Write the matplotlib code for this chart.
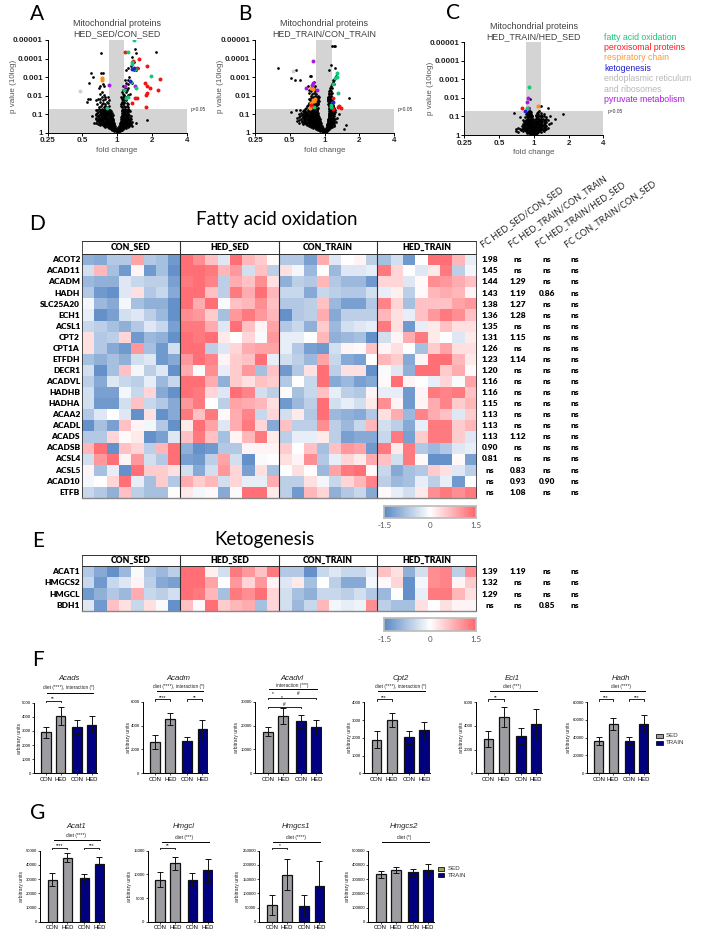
import matplotlib
matplotlib.use('Agg')
import matplotlib.pyplot as plt
import numpy as np
from matplotlib.colors import LinearSegmentedColormap

plt.rcParams['font.family'] = ['Liberation Sans', 'DejaVu Sans']

W, H = 701, 935
cal = ['Lato', 'DejaVu Sans']
heat_cmap = LinearSegmentedColormap.from_list('heat', ['#5A8AC6', '#FFFFFF', '#FF666C'])
group_names = ['CON_SED', 'HED_SED', 'CON_TRAIN', 'HED_TRAIN']

# volcano data: (-log10 p, [log2 fold change, ...])
a_black = [
    (0.03, [-0.02, 0.02]), (0.1, [-0.08, -0.04, 0, 0.04, 0.08]),
    (0.15, [-0.15, -0.1, -0.06, -0.02, 0.02, 0.06, 0.1, 0.14]),
    (0.2, [-0.18, -0.13, -0.08, -0.04, 0.04, 0.08, 0.12, 0.17]),
    (0.25, [-0.24, -0.17, -0.11, -0.06, -0.02, 0.03, 0.06, 0.1, 0.14, 0.2, 0.26]),
    (0.3, [-0.34, -0.26, -0.2, -0.14, -0.09, 0.08, 0.12, 0.17, 0.23, 0.3]),
    (0.35, [-0.37, -0.29, -0.22, -0.16, -0.11, -0.06, 0.06, 0.1, 0.14, 0.19, 0.25, 0.33, 0.44]),
    (0.4, [-0.5, -0.4, -0.32, -0.25, -0.19, -0.13, 0.1, 0.15, 0.2, 0.27, 0.36]),
    (0.45, [-0.55, -0.44, -0.35, -0.28, -0.22, -0.15, -0.1, 0.08, 0.13, 0.18, 0.24, 0.32, 0.4]),
    (0.5, [-0.6, -0.46, -0.38, -0.3, -0.24, -0.17, -0.12, 0.11, 0.17, 0.23, 0.3, 0.55]),
    (0.55, [-0.66, -0.5, -0.41, -0.33, -0.26, -0.2, -0.14, -0.09, 0.09, 0.14, 0.2, 0.27, 0.36]),
    (0.6, [-0.52, -0.44, -0.36, -0.29, -0.22, -0.15, 0.12, 0.18, 0.25, 0.33, 0.42]),
    (0.65, [-0.58, -0.49, -0.41, -0.32, -0.24, -0.17, -0.11, 0.1, 0.15, 0.22, 0.29, 0.38]),
    (0.7, [-0.55, -0.47, -0.4, -0.33, -0.26, -0.19, -0.13, 0.13, 0.19, 0.26, 0.34, 0.85]),
    (0.75, [-0.6, -0.52, -0.45, -0.37, -0.3, -0.23, -0.16, -0.11, 0.11, 0.16, 0.23, 0.31, 0.4]),
    (0.8, [-0.62, -0.5, -0.43, -0.36, -0.29, -0.22, -0.15, 0.14, 0.2, 0.27, 0.36]),
    (0.85, [-0.55, -0.45, -0.37, -0.3, -0.21, -0.14, 0.12, 0.17, 0.24, 0.32]),
    (0.9, [-0.72, -0.56, -0.47, -0.39, -0.32, -0.24, -0.17, 0.15, 0.21, 0.28, 0.4]),
    (0.95, [-0.62, -0.53, -0.44, -0.36, -0.29, -0.2, -0.13, 0.13, 0.18, 0.25, 0.34]),
    (1.0, [-0.6, -0.5, -0.42, -0.35, -0.27, -0.19, 0.16, 0.22, 0.3]),
    (1.05, [-0.58, -0.47, -0.4, -0.32, -0.24, -0.16, 0.13, 0.19, 0.27]),
    (1.1, [-0.55, -0.46, -0.38, -0.3, -0.22, 0.16, 0.23, 0.31]),
    (1.15, [-0.5, -0.42, -0.34, -0.26, -0.18, 0.14, 0.2, 0.28, 0.36]),
    (1.2, [-0.58, -0.48, -0.4, -0.32, -0.24, 0.17, 0.24, 0.34]),
    (1.25, [-0.6, -0.45, -0.36, -0.28, -0.2, 0.14, 0.2, 0.27]),
    (1.3, [-0.53, -0.44, -0.34, -0.26, 0.16, 0.22, 0.3]),
    (1.4, [-0.53, -0.39, -0.3, 0.15, 0.23, 0.3]), (1.45, [-0.47, -0.36, -0.25, 0.12, 0.2, 0.27]),
    (1.55, [-0.58, -0.44, -0.35, 0.1, 0.18, 0.32]), (1.6, [-0.4, -0.26, 0.13, 0.2, 0.27]),
    (1.67, [-0.87, -0.49, -0.3, 0.2, 0.14]), (1.75, [-0.62, -0.4, -0.24, 0.16, 0.25]),
    (1.8, [-0.85, -0.77, -0.56, -0.49, -0.34, 0.13, 0.22]), (1.9, [-0.45, -0.27, 0.12, 0.2, 0.3]),
    (1.94, [-0.34, 0.16, 0.26]), (2.05, [-0.38, 0.2, 0.3]), (2.1, [-0.49, 0.16, 0.37]),
    (2.2, [-0.43, 0.14, 0.24]), (2.3, [0.28, 0.18]), (2.4, [0.22, 0.3, -0.52]),
    (2.5, [-0.49, -0.39, 0.18]), (2.6, [0.3, -0.42]), (2.66, [-0.8, 0.42, 0.26]), (2.84, [-0.45, 0.23, 0.32]),
    (3.0, [-0.7, 0.33]), (3.2, [-0.75, -0.47, -0.41]), (3.4, [0.26, 0.47, 0.55]), (3.47, [0.32, 0.61]),
    (3.6, [0.4]), (3.83, [0.47]), (4.1, [0.42]), (4.3, [-0.46, 0.54]), (4.37, [1.11]), (4.5, [0.5]),
]
a_green = [(0.47, 5.0), (0.3, 4.37), (0.43, 3.79), (0.43, 3.69), (0.51, 3.45), (0.97, 3.07),
           (0.39, 2.75), (0.53, 2.39), (0.2, 2.3), (0.32, 1.94), (0.26, 1.85), (-0.3, 1.31)]
a_red = [(0.22, 4.37), (0.45, 3.88), (0.64, 4.0), (0.85, 3.6), (0.58, 3.47), (1.23, 2.88),
         (0.8, 2.66), (0.87, 2.5), (0.94, 2.41), (1.18, 2.28), (0.85, 2.12), (0.82, 2.03),
         (0.51, 1.89), (0.56, 1.89), (0.44, 1.62), (0.83, 1.38)]
a_orange = [(-0.43, 2.93), (-0.44, 2.84)]
a_blue = [(0.42, 3.43), (0.47, 3.5), (0.37, 2.8)]
a_purple = [(-0.25, 2.55), (0.5, 2.5), (0.23, 2.5)]
a_gray = [(-1.08, 2.27)]

b_black = [
    (0.03, [-0.04, 0, 0.03]), (0.1, [-0.12, -0.08, -0.04, 0, 0.04, 0.08]),
    (0.15, [-0.2, -0.14, -0.1, -0.06, -0.02, 0.02, 0.06, 0.1]),
    (0.2, [-0.25, -0.19, -0.14, -0.09, -0.05, 0.05, 0.09, 0.13, 0.57]),
    (0.25, [-0.33, -0.25, -0.19, -0.14, -0.09, -0.05, 0.05, 0.08, 0.12, 0.17]),
    (0.3, [-0.38, -0.3, -0.24, -0.18, -0.12, -0.07, 0.07, 0.11, 0.16, 0.22]),
    (0.35, [-0.46, -0.36, -0.29, -0.22, -0.16, -0.11, -0.07, 0.07, 0.1, 0.15, 0.2, 0.27]),
    (0.4, [-0.5, -0.42, -0.35, -0.28, -0.22, -0.15, -0.1, 0.08, 0.13, 0.19, 0.26, 0.62]),
    (0.45, [-0.62, -0.52, -0.44, -0.36, -0.29, -0.23, -0.17, -0.12, 0.08, 0.12, 0.17, 0.23]),
    (0.5, [-0.58, -0.5, -0.42, -0.34, -0.27, -0.2, -0.14, 0.09, 0.14, 0.2, 0.28]),
    (0.55, [-0.72, -0.6, -0.5, -0.42, -0.35, -0.28, -0.22, -0.16, -0.11, 0.09, 0.13, 0.18, 0.25]),
    (0.6, [-0.66, -0.56, -0.47, -0.4, -0.33, -0.26, -0.19, -0.13, 0.1, 0.15, 0.22, 0.32]),
    (0.65, [-0.78, -0.65, -0.55, -0.46, -0.38, -0.31, -0.24, -0.17, -0.12, 0.1, 0.15, 0.2, 0.28]),
    (0.7, [-0.72, -0.6, -0.5, -0.43, -0.36, -0.29, -0.22, -0.15, 0.11, 0.17, 0.24]),
    (0.75, [-0.68, -0.57, -0.48, -0.41, -0.34, -0.27, -0.2, -0.14, 0.11, 0.16, 0.22, 0.3]),
    (0.8, [-0.78, -0.63, -0.55, -0.47, -0.4, -0.32, -0.25, -0.18, 0.12, 0.18, 0.25, 0.35]),
    (0.85, [-0.74, -0.62, -0.52, -0.44, -0.37, -0.3, -0.23, -0.16, 0.12, 0.17, 0.24]),
    (0.9, [-0.7, -0.6, -0.5, -0.42, -0.35, -0.28, -0.2, 0.13, 0.19, 0.27]),
    (0.95, [-0.66, -0.56, -0.47, -0.39, -0.32, -0.25, -0.18, 0.13, 0.18, 0.25]),
    (1.0, [-0.73, -0.62, -0.53, -0.45, -0.37, -0.3, -0.22, 0.14, 0.2, 0.28, 0.42]),
    (1.05, [-0.68, -0.57, -0.49, -0.4, -0.33, -0.26, -0.19, 0.13, 0.19, 0.26]),
    (1.13, [-0.95, -0.6, -0.5, -0.42, -0.33, -0.25, 0.15, 0.21, 0.3]),
    (1.17, [-0.63, -0.55, -0.46, -0.37, -0.29, -0.21, 0.14, 0.2, 0.28]),
    (1.22, [-0.81, -0.7, -0.58, -0.47, -0.38, -0.3, -0.22, 0.15, 0.22, 0.3]),
    (1.3, [-0.56, -0.46, -0.38, -0.3, -0.22, 0.13, 0.19, 0.26]),
    (1.35, [-0.52, -0.42, -0.34, -0.26, -0.2, 0.14, 0.2, 0.27]),
    (1.42, [-0.5, -0.4, -0.31, -0.24, 0.12, 0.18, 0.25]),
    (1.5, [-0.47, -0.38, -0.3, -0.22, 0.12, 0.18, 0.25]),
    (1.57, [-0.42, -0.33, -0.25, -0.18, 0.11, 0.16, 0.22]),
    (1.62, [-0.45, -0.34, -0.26, -0.2, 0.12, 0.17]),
    (1.7, [-0.4, -0.3, -0.22, -0.16, 0.1, 0.15]),
    (1.75, [-0.42, -0.32, -0.24, 0.11, 0.16, 0.22]),
    (1.82, [-0.44, -0.35, -0.27, -0.2, 0.11, 0.15, 0.2]),
    (1.88, [-0.4, -0.3, -0.22, 0.1, 0.15, 0.71]), (1.95, [-0.33, -0.25, -0.17, 0.09, 0.14, 0.2]),
    (2.0, [-0.38, -0.28, -0.2, 0.12, 0.2]), (2.08, [-0.35, -0.24, 0.12, 0.18]), (2.15, [-0.44, -0.3, 0.14, 0.22]),
    (2.25, [-0.38, -0.28, 0.13, 0.2]), (2.3, [-0.45, -0.25, 0.16]), (2.42, [-0.3, 0.16, 0.22]),
    (2.5, [-0.48, -0.26, 0.2]), (2.65, [0.22, 0.27]), (2.75, [0.25, -0.3]),
    (2.84, [-0.86, -0.71, 0.24, 0.27]), (2.97, [-0.95, 0.29]), (3.08, [-0.43, -0.38, 0.32]),
    (3.38, [-0.83, 0.14]), (3.5, [-1.35, 0.29]), (3.65, [0.19]), (4.7, [0.22, 0.26, 0.29]),
]
b_green = [(0.35, 3.24), (0.35, 3.02), (0.3, 2.93), (0.24, 2.63), (0.38, 2.12), (0.19, 1.49),
           (0.19, 1.4), (-0.29, 1.37)]
b_red = [(0.24, 1.85), (-0.38, 1.49), (0.43, 1.44), (0.38, 1.37), (0.48, 1.31), (0.24, 1.26)]
b_orange = [(-0.38, 2.39), (-0.33, 2.34), (-0.33, 1.76), (-0.26, 1.8), (-0.38, 1.62),
            (-0.3, 1.72), (-0.43, 1.31)]
b_blue = [(0.24, 1.64)]
b_purple = [(-0.33, 3.87), (-0.33, 2.7), (-0.35, 2.57), (-0.52, 2.39), (-0.22, 2.3)]
b_gray = [(-0.92, 3.35)]

c_black = [
    (0.03, [-0.12, -0.06, 0, 0.05]), (0.1, [-0.2, -0.15, -0.1, -0.05, 0, 0.05, 0.1]),
    (0.15, [-0.45, -0.2, -0.14, -0.08, -0.03, 0.02, 0.07, 0.12, 0.2]),
    (0.2, [-0.52, -0.3, -0.22, -0.16, -0.1, -0.04, 0.03, 0.08, 0.14, 0.3]),
    (0.25, [-0.36, -0.25, -0.19, -0.13, -0.07, -0.01, 0.05, 0.11, 0.18, 0.26]),
    (0.3, [-0.5, -0.4, -0.28, -0.2, -0.13, -0.06, 0.01, 0.07, 0.14, 0.22, 0.32]),
    (0.35, [-0.33, -0.25, -0.18, -0.11, -0.05, 0.02, 0.09, 0.16, 0.25, 0.34]),
    (0.4, [-0.45, -0.3, -0.22, -0.15, -0.08, -0.02, 0.05, 0.12, 0.2, 0.28, 0.4]),
    (0.45, [-0.28, -0.2, -0.13, -0.06, 0, 0.07, 0.14, 0.22, 0.32]),
    (0.5, [-0.33, -0.25, -0.18, -0.11, -0.04, 0.04, 0.1, 0.18, 0.26, 0.36]),
    (0.55, [-0.28, -0.2, -0.13, -0.07, 0, 0.07, 0.15, 0.23, 0.33]),
    (0.6, [-0.3, -0.22, -0.16, -0.09, -0.02, 0.05, 0.12, 0.2, 0.3, 0.44]),
    (0.65, [-0.25, -0.18, -0.11, -0.05, 0.01, 0.08, 0.15, 0.22, 0.32, 0.5]),
    (0.7, [-0.27, -0.2, -0.13, -0.06, 0.03, 0.1, 0.18, 0.25, 0.35]),
    (0.75, [-0.25, -0.17, -0.1, -0.03, 0.06, 0.12, 0.2, 0.28]),
    (0.8, [-0.3, -0.22, -0.15, -0.08, 0.04, 0.14, 0.22, 0.31, 0.42]),
    (0.85, [-0.18, -0.1, -0.03, 0.05, 0.12, 0.2, 0.34]),
    (0.88, [-0.21, -0.13, -0.05, 0.07, 0.15, 0.27, 0.61]),
    (0.95, [-0.39, -0.24, -0.16, -0.09, 0.08, 0.2, 0.34]),
    (1.0, [-0.2, -0.12, -0.06, 0.05, 0.14, 0.3]),
    (1.05, [-0.18, -0.1, -0.04, 0.1, 0.24, 0.47]), (1.1, [-0.16, -0.08, 0.06, 0.2]),
    (1.14, [-0.22, -0.14, -0.07, 0.12, 0.28, 0.83]), (1.21, [-0.58, -0.2, -0.12, 0.09, 0.2]),
    (1.25, [-0.16, -0.08, 0.12]), (1.3, [-0.15, -0.1, 0.15]),
    (1.48, [0.4, -0.14]), (1.59, [0.21]), (1.96, [-0.1]),
]
c_green = [(-0.14, 2.59), (-0.2, 1.43)]
c_red = [(-0.33, 1.48)]
c_orange = [(0.13, 1.59)]
c_blue = [(-0.25, 1.29)]
c_purple = [(-0.17, 2.0), (-0.2, 1.79), (-0.17, 1.43)]
c_gray = []

legend_labels = ['fatty acid oxidation', 'peroxisomal proteins', 'respiratory chain', 'ketogenesis',
                 'endoplasmic reticulum', 'and ribosomes', 'pyruvate metabolism']
legend_colors = ['#1FC47D', '#FF1A1A', '#FF9A2E', '#2020D0', '#B8B8B8', '#B8B8B8', '#B01AE0']

# heatmap D
fao_genes = ['ACOT2', 'ACAD11', 'ACADM', 'HADH', 'SLC25A20', 'ECH1', 'ACSL1', 'CPT2', 'CPT1A', 'ETFDH', 'DECR1',
             'ACADVL', 'HADHB', 'HADHA', 'ACAA2', 'ACADL', 'ACADS', 'ACADSB', 'ACSL4', 'ACSL5', 'ACAD10', 'ETFB']
fao_con_sed = [
    [-1.0, -1.1, -0.7, -0.7, 0.9, -0.7, -0.8, -1.3],
    [-0.4, 0.7, -0.8, -1.3, 0.1, -1.3, -0.8, -1.4],
    [-0.9, -1.0, -1.0, -0.3, -0.5, -0.6, -0.6, -1.2],
    [-0.7, -1.3, -1.4, -0.3, 0.3, -0.7, -0.5, -1.1],
    [-0.1, -0.9, -1.1, -0.1, -0.8, -1.0, -1.0, -1.4],
    [-0.2, -1.4, -1.2, -0.4, -0.3, -0.6, -0.9, -1.4],
    [-0.5, -0.6, -0.8, -1.0, -0.7, -0.3, -0.5, -1.2],
    [0.3, -0.7, -0.6, 0.4, -1.3, -0.9, -1.0, -1.4],
    [0.3, -0.7, -1.1, -1.3, 1.0, -0.8, -1.3, -0.4],
    [-0.8, -1.0, -0.8, -1.0, -0.4, -0.3, -1.3, -1.1],
    [-0.4, -1.4, -0.8, 0.6, -0.1, -0.6, -0.3, -1.4],
    [-0.6, -1.1, -0.3, -0.5, -0.6, -0.2, -0.9, -0.5],
    [-0.4, -1.2, -1.2, -0.1, -0.5, 0.4, -1.1, -1.4],
    [-0.4, -1.3, -1.3, -0.4, 0.6, -0.5, -0.7, -1.1],
    [-0.7, -0.3, 0.0, -0.3, -1.4, 0.3, -1.4, -1.1],
    [-1.4, -0.8, -1.2, 0.6, 0.1, -0.1, -0.7, -1.4],
    [-0.7, -0.7, 0.4, 0.05, 0.2, -1.4, -1.2, -0.3],
    [0.7, 1.4, -1.4, 0.6, 0.4, -0.6, 0.7, 1.4],
    [-0.4, 1.0, 1.4, 0.1, 1.0, -0.4, -0.7, 1.4],
    [0.1, -0.8, -0.2, -1.4, 1.4, 0.5, 0.5, 0.3],
    [-0.1, 0.0, 0.4, 1.4, -0.2, -0.8, 0.5, -0.7],
    [-0.5, -0.7, -1.0, 0.6, -0.6, -0.8, -0.8, 0.03],
]
fao_hed_sed = [
    [1.4, 1.1, 0.6, -0.3, 1.4, 0.7, 0.5, 0.05],
    [1.4, 1.4, 1.3, 0.7, 1.0, -0.4, 0.6, -0.6],
    [1.3, 1.4, 1.2, -0.6, 0.8, 0.6, 1.1, 0.3],
    [1.4, 1.4, 0.6, -0.6, 1.3, 0.8, 1.4, 0.7],
    [1.4, 0.8, 1.4, -0.05, 0.6, 0.7, 1.1, 0.6],
    [1.1, 1.0, 0.5, -0.8, 1.0, 1.3, 1.0, 0.7],
    [1.3, 1.3, 0.8, -0.3, 1.4, 0.6, 0.1, 0.9],
    [1.4, 1.3, 1.4, 0.2, 0.0, 0.4, -0.05, 1.0],
    [1.4, 1.4, -0.6, -0.3, 0.4, 0.8, 0.9, 0.9],
    [1.0, 1.4, 1.2, 0.1, 0.5, 0.6, 1.4, -0.2],
    [0.8, -0.05, 1.1, -0.2, 0.5, 1.0, -0.8, 0.6],
    [1.4, 1.4, 0.8, -1.0, 0.5, 0.3, 0.6, 0.5],
    [1.4, 1.3, 0.4, -0.3, 1.4, 1.2, -0.4, -0.6],
    [1.0, 1.3, 0.0, -0.6, 0.9, 0.8, 0.7, 0.3],
    [1.3, 0.6, 1.3, 0.05, 0.8, 1.2, -0.5, 0.4],
    [0.2, 1.4, 0.9, -0.3, 0.8, 1.3, 0.4, -1.1],
    [0.6, 1.3, 0.6, -0.8, 0.1, 0.7, 1.3, 0.2],
    [-1.0, -1.4, -1.3, -0.7, -0.7, 0.1, 0.1, 0.1],
    [-1.2, -1.3, -0.6, 0.9, -0.4, -1.4, -0.05, 0.0],
    [-0.4, -1.1, -0.4, 1.0, 0.4, -1.2, 0.3, -0.8],
    [0.8, 0.5, 0.7, -0.4, 0.4, -0.2, -0.2, 0.8],
    [0.2, -0.1, 0.05, -1.1, -0.05, 1.4, 1.4, 0.2],
]
fao_con_train = [
    [-0.7, -0.7, -1.2, 0.8, -0.3, 0.0, 0.1, -0.6],
    [0.3, -0.1, -0.9, 0.0, -0.9, -0.3, -0.3, -0.2],
    [-1.0, -0.6, -0.7, 0.7, -0.7, -0.9, -0.9, -1.3],
    [-0.5, -0.5, -1.1, -0.5, -0.6, -0.7, -0.7, -0.4],
    [-0.7, -0.7, -0.6, 0.6, -0.9, -1.2, -1.2, -0.7],
    [-1.4, -0.7, -0.6, 0.8, -1.1, -0.6, -0.6, -0.6],
    [-0.7, -0.5, -1.0, 0.5, -0.9, -0.4, -0.3, -0.2],
    [-0.2, -0.2, 0.0, 0.7, -1.0, -0.9, -0.8, -1.4],
    [-0.2, -0.7, -1.2, -1.3, -0.4, 0.1, 0.05, 0.6],
    [-0.4, -0.6, -0.9, 0.9, -0.5, -1.1, -1.2, 0.0],
    [-1.3, -0.7, 0.3, 1.4, -0.6, 0.3, 0.3, -1.4],
    [-0.7, 0.0, -0.5, 1.4, -1.1, -0.9, -1.2, -1.1],
    [0.05, -0.8, -0.5, 0.6, -0.2, -0.6, -0.7, 0.1],
    [-1.3, -0.9, -0.6, 1.4, -0.4, -0.2, -0.4, 0.2],
    [-0.4, 0.2, -0.7, 1.4, -0.9, -1.0, -1.1, -0.7],
    [0.6, -0.6, -0.6, 1.1, -0.6, -0.9, -0.5, 0.7],
    [-0.6, -0.2, -0.2, 0.2, -0.6, -1.2, -1.1, -1.1],
    [0.5, 0.0, 0.6, -0.8, 0.6, 1.0, 0.9, -1.3],
    [0.3, 0.1, 1.1, -0.7, -0.2, 0.4, 0.2, 0.8],
    [0.0, 0.3, 0.0, -0.9, 0.9, 1.3, 1.4, 0.05],
    [-0.6, -0.6, 0.3, -0.1, -0.5, 0.4, 0.7, 1.2],
    [-0.6, -1.3, 0.7, 0.4, -1.0, -0.7, -0.5, -1.1],
]
fao_hed_train = [
    [-0.8, -0.4, -1.3, 0.0, 1.4, 1.4, 0.7, -0.2],
    [1.3, 0.4, 0.0, -0.3, 0.2, 1.3, -0.6, -0.1],
    [0.4, 0.4, -0.3, 0.05, 1.1, 1.0, 0.8, 0.6],
    [-0.2, 0.15, -0.6, 0.05, 0.7, 0.8, 0.7, 0.1],
    [1.2, 0.4, -0.8, 0.6, 0.6, 0.6, 0.9, 1.0],
    [0.7, 0.3, -0.2, 0.6, 1.0, 1.3, 1.1, 0.6],
    [1.3, 0.3, -1.3, -0.2, 0.2, 0.6, 0.3, 0.3],
    [-0.4, 0.1, 0.8, 1.3, 0.2, 0.0, -0.3, 0.2],
    [0.1, 0.3, 0.0, -0.8, 0.5, 0.9, 0.3, 0.3],
    [0.7, 0.5, -1.1, 0.1, 1.4, 1.4, 0.7, 0.2],
    [-0.05, -0.3, -1.0, 1.4, 1.4, 0.5, 0.8, 0.05],
    [0.05, 1.4, 0.1, 0.0, -0.2, 0.4, -0.05, 0.9],
    [-0.2, -0.2, -1.3, 0.1, 1.3, 1.2, 1.3, 0.6],
    [1.1, 0.1, -1.3, 0.1, 0.8, 1.2, 0.5, 0.7],
    [0.3, 0.8, -0.9, 1.2, 0.8, 0.6, -0.3, 0.5],
    [-0.4, -0.6, -1.1, -0.2, 1.3, 1.3, 0.5, 0.7],
    [-0.5, 1.3, -1.2, 0.5, 1.3, 1.3, 0.5, -0.3],
    [1.3, 0.2, 1.3, -0.7, -0.9, -0.7, -0.3, -0.2],
    [0.6, -0.4, 1.3, 0.05, -1.4, -1.4, 0.05, -1.2],
    [-0.5, -1.1, -0.8, -0.7, 0.5, 0.3, -0.3, -0.6],
    [-0.6, -0.9, -0.8, -0.2, -0.6, -0.2, -1.3, 0.0],
    [0.05, -0.2, -0.4, 0.2, 1.1, 1.3, 1.1, 1.3],
]
fc_headers = ['FC HED_SED/CON_SED', 'FC HED_TRAIN/CON_TRAIN', 'FC HED_TRAIN/HED_SED', 'FC CON_TRAIN/CON_SED']
fao_fc1 = ['1.98', '1.45', '1.44', '1.43', '1.38', '1.36', '1.35', '1.31', '1.26', '1.23', '1.20', '1.16', '1.16',
           '1.15', '1.13', '1.13', '1.13', '0.90', '0.81', 'ns', 'ns', 'ns']
fao_fc2 = ['ns', 'ns', '1.29', '1.19', '1.27', '1.28', 'ns', '1.15', 'ns', '1.14', 'ns', 'ns', 'ns', 'ns', 'ns',
           'ns', '1.12', 'ns', 'ns', '0.83', '0.93', '1.08']
fao_fc3 = ['ns', 'ns', 'ns', '0.86', 'ns', 'ns', 'ns', 'ns', 'ns', 'ns', 'ns', 'ns', 'ns', 'ns', 'ns', 'ns', 'ns',
           'ns', 'ns', 'ns', '0.90', 'ns']
fao_fc4 = ['ns'] * 22

# heatmap E
keto_genes = ['ACAT1', 'HMGCS2', 'HMGCL', 'BDH1']
keto_con_sed = [[-0.7, -1.1, -1.4, -0.9, -0.05, -0.7, -0.9, -0.6],
                [-0.5, -1.3, -0.5, -0.3, 0.1, -0.6, -1.1, -1.2],
                [-1.3, -1.0, -0.7, -0.9, 0.8, -0.5, -0.6, -0.4],
                [-0.3, -1.3, 0.6, 0.3, -0.5, 0.3, -0.05, -1.4]]
keto_hed_sed = [[1.4, 1.4, 0.15, -0.4, 1.3, 1.0, 0.6, 1.3],
                [1.4, 1.4, 0.9, 0.0, 1.0, 0.4, 1.0, 0.1],
                [1.4, 1.3, 0.7, -0.8, 1.3, 1.1, 1.4, 0.4],
                [0.6, 0.05, 1.4, 0.5, 0.7, 0.8, -0.8, 0.4]]
keto_con_train = [[-0.7, -0.7, -1.4, -0.5, -0.3, -0.5, -0.5, -0.2],
                  [-0.3, 0.2, -0.8, 0.0, -0.6, -1.1, -1.1, -0.1],
                  [-0.4, -0.8, -1.0, -0.5, -0.5, -0.6, -0.4, -0.7],
                  [-0.4, -0.9, -0.5, 0.7, -0.1, -0.2, -0.15, 1.1]]
keto_hed_train = [[0.6, 0.3, -1.0, -0.4, 1.1, 1.2, -0.6, 1.1],
                  [0.05, 0.4, -1.4, -0.1, 1.1, 1.2, 0.1, 0.5],
                  [-0.9, 0.0, -1.4, -0.2, 1.3, 1.3, 0.7, 0.3],
                  [-0.6, -0.8, -0.8, 0.3, 0.0, 0.3, 0.1, 0.1]]
keto_fc1 = ['1.39', '1.32', '1.29', 'ns']
keto_fc2 = ['1.19', 'ns', 'ns', 'ns']
keto_fc3 = ['ns', 'ns', 'ns', '0.85']
keto_fc4 = ['ns', 'ns', 'ns', 'ns']

# bars: CON/HED SED, CON/HED TRAIN
bar_labels = ['CON', 'HED', 'CON', 'HED']
acads_mean, acads_err = [2900, 4050, 3250, 3450], [400, 620, 500, 630]
acadm_mean, acadm_err = [2600, 4550, 2700, 3700], [580, 520, 330, 800]
acadvl_mean, acadvl_err = [17500, 24000, 21800, 19300], [2000, 3250, 2650, 3100]
cpt2_mean, cpt2_err = [1900, 3020, 2020, 2420], [470, 400, 380, 460]
eci1_mean, eci1_err = [2900, 4750, 3150, 4150], [680, 820, 680, 1300]
hadh_mean, hadh_err = [36000, 55500, 36500, 55000], [4500, 6500, 4000, 10000]
acat1_mean, acat1_err = [29500, 45000, 30500, 40500], [4500, 3200, 3300, 4900]
hmgcl_mean, hmgcl_err = [8900, 12300, 8800, 10900], [1550, 1400, 1550, 2450]
hmgcs1_mean, hmgcs1_err = [60000, 166000, 55000, 126000], [35000, 56000, 38000, 89000]
hmgcs2_mean, hmgcs2_err = [333000, 365000, 347000, 363000], [25000, 23000, 25000, 46000]

fig = plt.figure(figsize=(W / 100, H / 100), dpi=100)


def px_axes(left, top, right, bottom):
    return fig.add_axes([left / W, 1 - bottom / H, (right - left) / W, (bottom - top) / H])


# overlay in pixel coordinates for all the loose text and brackets
ov = fig.add_axes([0, 0, 1, 1], zorder=10)
ov.set_xlim(0, W)
ov.set_ylim(H, 0)
ov.axis('off')
ov.patch.set_alpha(0)


def scatter_set(ax, pts, color, s):
    if pts:
        xs, ys = zip(*pts)
        ax.scatter(2 ** np.array(xs), 10 ** -np.array(ys), s=s, c=color, linewidths=0, zorder=4)


def volcano(left, top, title, black, green, red, orange, blue, purple, gray):
    right, bottom = left + 139, top + 92.7
    ax = px_axes(left, top, right, bottom)
    ax.set_xscale('log', base=2)
    ax.set_yscale('log')
    ax.set_xlim(0.25, 4)
    ax.set_ylim(1, 1e-5)
    ax.axhspan(1, 0.05, color='#D4D4D4', lw=0, zorder=1)
    ax.axvspan(0.85, 1.15, color='#D4D4D4', lw=0, zorder=1)
    for ny, xs in black:
        ax.scatter(2 ** np.array(xs), [10 ** -ny] * len(xs), s=3.8, c='black', linewidths=0, zorder=3)
    scatter_set(ax, gray, '#D0D0D0', 8)
    scatter_set(ax, orange, '#FF8C1A', 9)
    scatter_set(ax, purple, '#A61AE0', 8)
    scatter_set(ax, red, '#F01414', 8)
    scatter_set(ax, green, '#14C878', 8)
    scatter_set(ax, blue, '#2020D0', 8)
    ax.set_xticks([0.25, 0.5, 1, 2, 4])
    ax.set_xticklabels(['0.25', '0.5', '1', '2', '4'], fontsize=5.8, fontweight='bold', color='#222222')
    ax.xaxis.set_minor_locator(matplotlib.ticker.NullLocator())
    ax.set_yticks([1, 0.1, 0.01, 0.001, 0.0001, 0.00001])
    ax.set_yticklabels(['1', '0.1', '0.01', '0.001', '0.0001', '0.00001'], fontsize=5.8, fontweight='bold',
                       color='#222222')
    ax.tick_params(axis='both', which='major', length=2.2, width=0.7, pad=1.2)
    ax.tick_params(axis='y', which='minor', length=1, width=0.4)
    ax.spines['top'].set_visible(False)
    ax.spines['right'].set_visible(False)
    ax.spines['left'].set_linewidth(0.7)
    ax.spines['bottom'].set_linewidth(0.7)
    cx = (left + right) / 2
    ov.text(cx, top - 16, 'Mitochondrial proteins', ha='center', va='center', fontsize=6.4, color='#404040')
    ov.text(cx, top - 6, title, ha='center', va='center', fontsize=6.4, color='#404040')
    ov.text(cx, bottom + 18, 'fold change', ha='center', va='center', fontsize=5.8, color='#555555')
    ov.text(left - 34, (top + bottom) / 2, 'p value (10log)', rotation=90, ha='center', va='center',
            fontsize=5.8, color='#555555')
    ov.text(right + 4, top + 69, 'p=0.05', ha='left', va='center', fontsize=3.5, color='#333333')


volcano(47.7, 40, 'HED_SED/CON_SED', a_black, a_green, a_red, a_orange, a_blue, a_purple, a_gray)
volcano(255, 40, 'HED_TRAIN/CON_TRAIN', b_black, b_green, b_red, b_orange, b_blue, b_purple, b_gray)
volcano(464.3, 42.3, 'HED_TRAIN/HED_SED', c_black, c_green, c_red, c_orange, c_blue, c_purple, c_gray)

for i, (lab, col) in enumerate(zip(legend_labels, legend_colors)):
    ov.text(604, 37 + i * 10.4, lab, ha='left', va='center', fontsize=6.3, color=col)

for lab, x, y in [('A', 37, 14), ('B', 245, 14), ('C', 453, 13), ('D', 37, 224), ('E', 38, 541),
                  ('F', 38, 660), ('G', 38, 813)]:
    ov.text(x, y, lab, ha='center', va='center', fontsize=15, family=cal, color='black')


def heatmap(head_top, head_bot, row_bot, genes, groups, fc_cols, label_size=6.0):
    left, right = 81.7, 476
    values = np.hstack([np.array(g) for g in groups])
    ax = px_axes(left, head_bot, right, row_bot)
    ax.imshow(values, cmap=heat_cmap, vmin=-1.5, vmax=1.5, aspect='auto', interpolation='nearest')
    ax.set_xticks([])
    ax.set_yticks([])
    for s in ax.spines.values():
        s.set_visible(False)
    step = (right - left) / 4
    rh = (row_bot - head_bot) / len(genes)
    for i in range(5):
        x = left + i * step
        ov.plot([x, x], [head_top, row_bot], color='#303030', lw=0.8 if 0 < i < 4 else 0.6)
    ov.plot([left, right], [head_top, head_top], color='#303030', lw=0.7)
    ov.plot([left, right], [head_bot, head_bot], color='#303030', lw=0.7)
    ov.plot([left, right], [row_bot, row_bot], color='#888888', lw=1.0)
    for i, name in enumerate(group_names):
        ov.text(left + (i + 0.5) * step, (head_top + head_bot) / 2, name, ha='center', va='center',
                fontsize=6.2, fontweight=800, family=cal)
    for i, g in enumerate(genes):
        y = head_bot + (i + 0.5) * rh
        ov.text(80, y, g, ha='right', va='center', fontsize=label_size, fontweight=800, family=cal)
        for x, col in zip([490, 518.3, 546.7, 574.7], fc_cols):
            ov.text(x, y, col[i], ha='center', va='center', fontsize=6, fontweight=800, family=cal)


def colorbar(top, labels_y):
    ax = px_axes(384.3, top, 476, top + 12.5)
    ax.imshow(np.linspace(-1.5, 1.5, 256)[None, :], cmap=heat_cmap, aspect='auto')
    ax.set_xticks([])
    ax.set_yticks([])
    for s in ax.spines.values():
        s.set_color('#BBBBBB')
        s.set_linewidth(1.2)
    for x, lab in [(384.3, '-1.5'), (430, '0'), (476, '1.5')]:
        ov.text(x, labels_y, lab, ha='center', va='center', fontsize=5.8, color='#555555', family=cal)


heatmap(241, 254.3, 497.7, fao_genes, [fao_con_sed, fao_hed_sed, fao_con_train, fao_hed_train],
        [fao_fc1, fao_fc2, fao_fc3, fao_fc4])
heatmap(555, 566, 611, keto_genes, [keto_con_sed, keto_hed_sed, keto_con_train, keto_hed_train],
        [keto_fc1, keto_fc2, keto_fc3, keto_fc4])
colorbar(505.7, 526)
colorbar(618.3, 640)

ov.text(277, 220, 'Fatty acid oxidation', ha='center', va='center', fontsize=13.4, family=cal)
ov.text(264, 540, 'Ketogenesis', ha='center', va='center', fontsize=13.5, family=cal)
for lab, x in zip(fc_headers, [484, 512.3, 538.7, 568]):
    ov.text(x, 249.5, lab, rotation=35, rotation_mode='anchor', ha='left', va='bottom', fontsize=6.5,
            family=cal, color='#222222')

BAR_X = [0, 1, 2.13, 3.13]
YLABEL_GAP = {4: 14.3, 5: 18.5, 6: 21.3}


def bar_panel(left, right, top, bottom, name, sub, means, errs, yticks, ylabels, sub_y, line, brackets,
              title_y):
    ax = px_axes(left, top, right, bottom)
    ax.bar(BAR_X, means, width=0.64, color=['#9D9DA1', '#9D9DA1', '#000080', '#000080'],
           edgecolor='#111111', linewidth=0.9, zorder=2)
    ax.errorbar(BAR_X, means, yerr=errs, fmt='none', ecolor='#111111', elinewidth=0.7, capsize=2.2,
                capthick=0.7, zorder=3)
    ax.set_xlim(-0.82, 3.5)
    ax.set_ylim(0, yticks[-1])
    ax.set_xticks(BAR_X)
    ax.set_xticklabels(bar_labels, fontsize=4.2)
    ax.set_yticks(yticks)
    ax.set_yticklabels(ylabels, fontsize=3.1)
    ax.tick_params(axis='x', length=1.5, width=0.5, pad=1)
    ax.tick_params(axis='y', length=1.5, width=0.5, pad=0.8)
    ax.spines['top'].set_visible(False)
    ax.spines['right'].set_visible(False)
    ax.spines['left'].set_linewidth(0.7)
    ax.spines['bottom'].set_linewidth(0.7)
    ax.patch.set_alpha(0)
    gap = YLABEL_GAP[max(len(t) for t in ylabels)]
    ov.text(left - gap, (top + bottom) / 2, 'arbitrary units', rotation=90, ha='center', va='center',
            fontsize=3.6, color='#222222')
    # bar centres in pixels, for brackets and significance lines
    to_px = lambda b: left + (BAR_X[b] + 0.82) / 4.32 * (right - left)
    cx = (to_px(0) + to_px(3)) / 2
    ov.text(cx, title_y, name, ha='center', va='center', fontsize=5.6, style='italic', color='#222222')
    ov.text(cx, sub_y, sub, ha='center', va='center', fontsize=3.4, color='#222222')
    ov.plot([to_px(0) + 1.5, to_px(3) + 1], [line, line], color='black', lw=0.7)
    for b1, b2, y, stars in brackets:
        ov.plot([to_px(b1), to_px(b1), to_px(b2), to_px(b2)], [y + 1.3, y, y, y + 1.3], color='black', lw=0.6)
        ov.text((to_px(b1) + to_px(b2)) / 2, y - 2.2, stars, ha='center', va='center', fontsize=3.4)


f_ticks_5 = [0, 1000, 2000, 3000, 4000, 5000]
bar_panel(34, 97, 702.7, 773.3, 'Acads', 'diet (****), interaction (*)', acads_mean, acads_err, f_ticks_5,
          [str(t) for t in f_ticks_5], 688, 692.7, [(0, 1, 700.7, '**')], 679)
bar_panel(142.7, 208, 701.7, 773.3, 'Acadm', 'diet (****), interaction (*)', acadm_mean, acadm_err,
          [0, 2000, 4000, 6000], ['0', '2000', '4000', '6000'], 686.7, 691.3,
          [(0, 1, 699.3, '****'), (2, 3, 699.3, '**')], 678)
bar_panel(255, 322, 701.7, 773.3, 'Acadvl', 'interaction (***)', acadvl_mean, acadvl_err,
          [0, 10000, 20000, 30000], ['0', '10000', '20000', '30000'], 685, 689.3,
          [(0, 3, 698, ''), (0, 2, 706.7, '#')], 678)
ov.text(273, 694, '*', ha='center', va='center', fontsize=3.4)
ov.text(298, 693.3, '#', ha='center', va='center', fontsize=3.4)
ov.text(282, 698, '*', ha='center', va='center', fontsize=3.4)
bar_panel(364, 430, 702.3, 773.3, 'Cpt2', 'diet (****), interaction (*)', cpt2_mean, cpt2_err,
          [0, 1000, 2000, 3000, 4000], ['0', '1000', '2000', '3000', '4000'], 686.7, 691.3,
          [(0, 1, 699.3, '***')], 678)
bar_panel(476, 541.7, 702, 773.3, 'Eci1', 'diet (***)', eci1_mean, eci1_err, [0, 2000, 4000, 6000],
          ['0', '2000', '4000', '6000'], 686.7, 691.3, [(0, 1, 699.3, '**')], 678)
bar_panel(587, 649, 702, 773.3, 'Hadh', 'diet (****)', hadh_mean, hadh_err, [0, 20000, 40000, 60000, 80000],
          ['0', '20000', '40000', '60000', '80000'], 686.7, 691.3,
          [(0, 1, 699.3, '***'), (2, 3, 699.3, '***')], 678)

g_top, g_bot = 850.7, 921.7
bar_panel(40, 105, g_top, g_bot, 'Acat1', 'diet (****)', acat1_mean, acat1_err,
          [0, 10000, 20000, 30000, 40000, 50000], ['0', '10000', '20000', '30000', '40000', '50000'], 835, 839.7,
          [(0, 1, 847.7, '****'), (2, 3, 847.7, '***')], 826.3)
bar_panel(147.7, 213.3, g_top, g_bot, 'Hmgcl', 'diet (***)', hmgcl_mean, hmgcl_err, [0, 5000, 10000, 15000],
          ['0', '5000', '10000', '15000'], 837.7, 842, [(0, 1, 848, '**')], 826.3)
bar_panel(259.3, 325, g_top, g_bot, 'Hmgcs1', 'diet (****)', hmgcs1_mean, hmgcs1_err,
          [0, 50000, 100000, 150000, 200000, 250000],
          ['0', '50000', '100000', '150000', '200000', '250000'], 837.7, 842, [(0, 1, 848, '*')], 826.3)
bar_panel(368.3, 433.5, g_top, g_bot, 'Hmgcs2', 'diet (*)', hmgcs2_mean, hmgcs2_err,
          [0, 100000, 200000, 300000, 400000, 500000],
          ['0', '100000', '200000', '300000', '400000', '500000'], 837.7, 842, [], 826.3)

# small SED / TRAIN keys
for x0, y0, sed_col in [(656, 735.7, '#9D9DA1'), (437.5, 868.5, '#A0A05A')]:
    for i, (lab, col) in enumerate(zip(['SED', 'TRAIN'], [sed_col, '#000080'])):
        y = y0 + i * 6.8
        ov.add_patch(plt.Rectangle((x0, y - 2), 6.5, 4, facecolor=col, edgecolor='#111111', lw=0.6))
        ov.text(x0 + 10, y, lab, ha='left', va='center', fontsize=4.4, color='#333333')

fig.savefig('out.png', dpi=100)
